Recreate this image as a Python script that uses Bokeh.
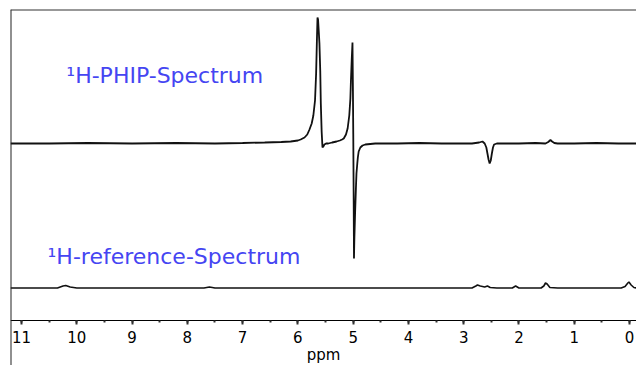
from bokeh.plotting import figure
from bokeh.models import LinearAxis, Range1d, Span, SingleIntervalTicker, Label
from bokeh.embed import file_html
from bokeh.resources import INLINE

# ---- data (ppm, intensity relative to baseline, arbitrary units) ----
phip_ppm = [11.2, 10.5, 9.8, 9.0, 8.2, 7.5, 7.0, 6.6, 6.3, 6.13, 6.0, 5.95, 5.88, 5.83,
            5.79, 5.75, 5.72, 5.69, 5.67, 5.655, 5.645, 5.635, 5.62, 5.61, 5.595, 5.585,
            5.57, 5.555, 5.54, 5.52, 5.49, 5.45, 5.38, 5.30, 5.24, 5.20, 5.17, 5.13, 5.10,
            5.07, 5.05, 5.04, 5.025, 5.012, 5.005, 4.998, 4.99, 4.985, 4.978, 4.965, 4.95,
            4.94, 4.925, 4.915, 4.90, 4.87, 4.83, 4.78, 4.6, 4.2, 3.8, 3.4, 3.0, 2.85,
            2.72, 2.66, 2.62, 2.59, 2.57, 2.55, 2.53, 2.51, 2.49, 2.47, 2.45, 2.40, 2.3,
            2.0, 1.7, 1.52, 1.47, 1.43, 1.40, 1.36, 1.3, 1.0, 0.6, 0.2, -0.127]
phip_int = [0, 0, 0.5, 0, 0.5, 0, 0.5, 1, 1.5, 2, 3, 4, 6, 9,
            14, 20, 28, 43, 70, 105, 126, 124, 110, 100, 72, 40,
            12, -4, -3, -1, 0, 0, 1, 2, 3, 4, 5, 9, 15,
            28, 45, 63, 85, 101, 60, 10, -60, -115, -95, -70, -45,
            -30, -20, -14, -8, -4, -2, -1, 0, 0, 0.5, 0, 0, 0,
            1, 2, 0, -4, -10, -16, -20, -17, -10, -4, -1, 0, 0,
            0, 0.5, 0, 1.5, 3.5, 2, 0.5, 0, 0, 0.5, 0, 0]

ref_ppm = [11.2, 10.6, 10.35, 10.25, 10.2, 10.12, 10.0, 9.0, 7.7, 7.6, 7.5, 6.0, 5.0,
           4.0, 3.0, 2.85, 2.78, 2.75, 2.70, 2.62, 2.57, 2.52, 2.4, 2.12, 2.06, 2.0,
           1.7, 1.6, 1.55, 1.52, 1.49, 1.44, 1.3, 1.0, 0.5, 0.15, 0.08, 0.03, 0.01,
           -0.03, -0.08, -0.127]
ref_int = [0, 0, 0, 2, 2.5, 1, 0, 0, 0, 1, 0, 0, 0,
           0, 0, 0, 2, 3, 2, 1, 2, 0.5, 0, 0, 2, 0,
           0, 0, 2, 5, 4, 0.5, 0, 0, 0, 0, 1.5, 5, 6,
           3, 0.5, 0]

tick_interval = 1
x_label = "ppm"
phip_label = "\u00b9H-PHIP-Spectrum"
ref_label = "\u00b9H-reference-Spectrum"

# ---- layout constants ----
PHIP_OFFSET = 222
REF_OFFSET = 77.5
AXIS_Y = 45
X_LEFT, X_RIGHT = 11.2, -0.127

p = figure(width=636, height=365, output_backend="svg", toolbar_location=None,
           x_range=Range1d(X_LEFT, X_RIGHT), y_range=Range1d(0, 356),
           x_axis_type=None, y_axis_type=None,
           min_border_left=10, min_border_right=0, min_border_top=9, min_border_bottom=0)
p.outline_line_color = None
p.background_fill_color = "white"

p.line(phip_ppm, [PHIP_OFFSET + v for v in phip_int],
       line_color="#111111", line_width=1.8)
p.line(ref_ppm, [REF_OFFSET + v for v in ref_int],
       line_color="#111111", line_width=1.6)

xaxis = LinearAxis(fixed_location=AXIS_Y,
                   ticker=SingleIntervalTicker(interval=tick_interval, num_minor_ticks=2),
                   axis_label=x_label)
xaxis.axis_line_color = "black"
xaxis.axis_line_width = 1
xaxis.major_tick_in = 0
xaxis.major_tick_out = 4
xaxis.minor_tick_in = 0
xaxis.minor_tick_out = 2
xaxis.major_tick_line_color = "#333333"
xaxis.major_tick_line_width = 2
xaxis.minor_tick_line_color = "#333333"
xaxis.minor_tick_line_width = 2
xaxis.major_label_text_font = "DejaVu Sans"
xaxis.major_label_text_font_size = "15px"
xaxis.major_label_text_color = "black"
xaxis.major_label_standoff = 6
xaxis.axis_label_text_font = "DejaVu Sans"
xaxis.axis_label_text_font_size = "15px"
xaxis.axis_label_text_font_style = "normal"
xaxis.axis_label_text_color = "black"
xaxis.axis_label_standoff = 0
p.add_layout(xaxis, "below")

p.add_layout(Span(location=X_LEFT, dimension="height", line_color="#222222", line_width=2))
p.add_layout(Span(location=356, dimension="width", line_color="#333333", line_width=2))

p.add_layout(Label(x=10.19, y=290, text=phip_label, text_font="DejaVu Sans",
                   text_font_size="22px", text_color="#4545f2", text_baseline="middle"))
p.add_layout(Label(x=10.53, y=109, text=ref_label, text_font="DejaVu Sans",
                   text_font_size="22px", text_color="#4545f2", text_baseline="middle"))

open("out.html", "w").write(file_html(p, INLINE))
